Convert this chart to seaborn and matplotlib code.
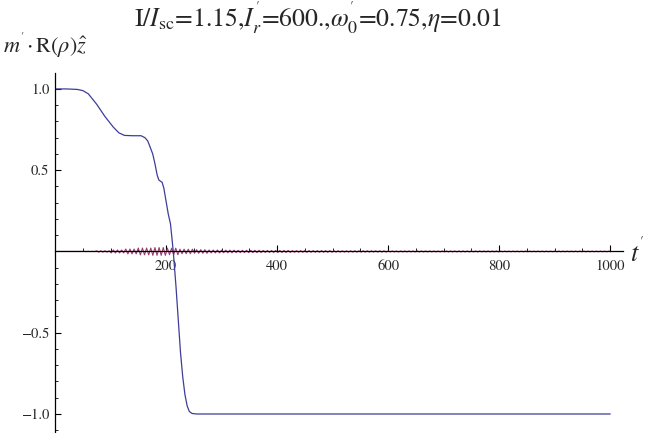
import matplotlib.pyplot as plt
import matplotlib.ticker as ticker
import numpy as np
import pandas as pd
import seaborn as sns

# blue curve: m'.R(rho) z-hat
blue_t = [0, 20, 40, 50, 60, 75, 90, 105, 115, 125, 140, 155, 162, 167,
          171, 176, 180, 184, 187, 190, 193, 196, 200, 204, 208, 213,
          218, 222, 226, 230, 234, 238, 242, 247, 255, 400, 700, 1000]
blue_y = [1.0, 1.0, 0.997, 0.99, 0.97, 0.906, 0.83, 0.765, 0.73, 0.714,
          0.712, 0.712, 0.70, 0.68, 0.645, 0.60, 0.54, 0.47, 0.44, 0.432,
          0.425, 0.39, 0.31, 0.23, 0.17, 0.0, -0.22, -0.42, -0.62, -0.77,
          -0.88, -0.95, -0.985, -0.997, -1.0, -1.0, -1.0, -1.0]

# red curve: oscillation amplitude per 25-unit block of t
red_block = 25
red_env = [0.0, 0.0, 0.001, 0.004, 0.009, 0.015, 0.021, 0.024, 0.020, 0.014,
           0.011, 0.009, 0.008, 0.007, 0.007, 0.006, 0.006, 0.005, 0.005, 0.005,
           0.004, 0.004, 0.004, 0.004, 0.003, 0.003, 0.003, 0.003, 0.003, 0.003,
           0.003, 0.003, 0.002, 0.002, 0.002, 0.002, 0.002, 0.002, 0.002, 0.002]
red_half_period = 3.75

x_major = [200, 400, 600, 800, 1000]
y_major = [-1.0, -0.5, 0.5, 1.0]

red_t = np.arange(0, 1000 + red_half_period / 2, red_half_period)
idx = np.minimum((red_t // red_block).astype(int), len(red_env) - 1)
sign = np.where(np.arange(len(red_t)) % 2 == 0, 1.0, -1.0)
red_y = np.array(red_env)[idx] * sign

blue_df = pd.DataFrame({"t": blue_t, "v": blue_y})
red_df = pd.DataFrame({"t": red_t, "v": red_y})

sns.set_style("ticks")
plt.rcParams["font.family"] = "STIXGeneral"
plt.rcParams["mathtext.fontset"] = "stix"

fig = plt.figure(figsize=(6.5, 4.33), dpi=100)
ax = fig.add_axes([55 / 650, 0, (623 - 55) / 650, 360 / 433])

sns.lineplot(data=red_df, x="t", y="v", color="#993d71", lw=0.8,
             sort=False, estimator=None, ax=ax)
sns.lineplot(data=blue_df, x="t", y="v", color="#3d3d99", lw=0.9,
             sort=False, estimator=None, ax=ax)

ax.set_xlim(0, 1023)
ax.set_ylim(-1.117, 1.098)
ax.set_xlabel("")
ax.set_ylabel("")

for s in ["top", "right"]:
    ax.spines[s].set_visible(False)
ax.spines["bottom"].set_position(("data", 0))
ax.spines["left"].set_position(("data", 0))
for s in ["bottom", "left"]:
    ax.spines[s].set_linewidth(0.9)
    ax.spines[s].set_color("black")

ax.xaxis.set_major_locator(ticker.FixedLocator(x_major))
ax.xaxis.set_minor_locator(ticker.MultipleLocator(50))
ax.yaxis.set_major_locator(ticker.FixedLocator(y_major))
ax.yaxis.set_minor_locator(ticker.MultipleLocator(0.1))
ax.xaxis.set_major_formatter(ticker.FuncFormatter(lambda v, p: f"{v:.0f}"))
ax.yaxis.set_major_formatter(
    ticker.FuncFormatter(lambda v, p: f"{v:.1f}".replace("-", "\u2212")))

ax.tick_params(axis="both", which="major", direction="in", length=4.5,
               width=0.8, labelsize=10.5, color="black")
ax.tick_params(axis="both", which="minor", direction="in", length=2.5,
               width=0.6, color="black")
ax.tick_params(axis="x", which="major", pad=6)
ax.tick_params(axis="y", which="major", pad=4)

fig.text(318 / 650, 1 - 18 / 433,
         r"I/$I_{\rm sc}$=1.15,$I_r^{'}$=600.,$\omega_0^{'}$=0.75,$\eta$=0.01",
         ha="center", va="center", fontsize=18.5)
fig.text(3 / 650, 1 - 45 / 433, r"$m^{'}\!\cdot$R($\rho$)$\hat{z}$",
         ha="left", va="center", fontsize=16)
fig.text(630 / 650, 1 - 252 / 433, r"$t^{'}$", ha="left", va="center",
         fontsize=19)

fig.savefig("out.png", dpi=100)
